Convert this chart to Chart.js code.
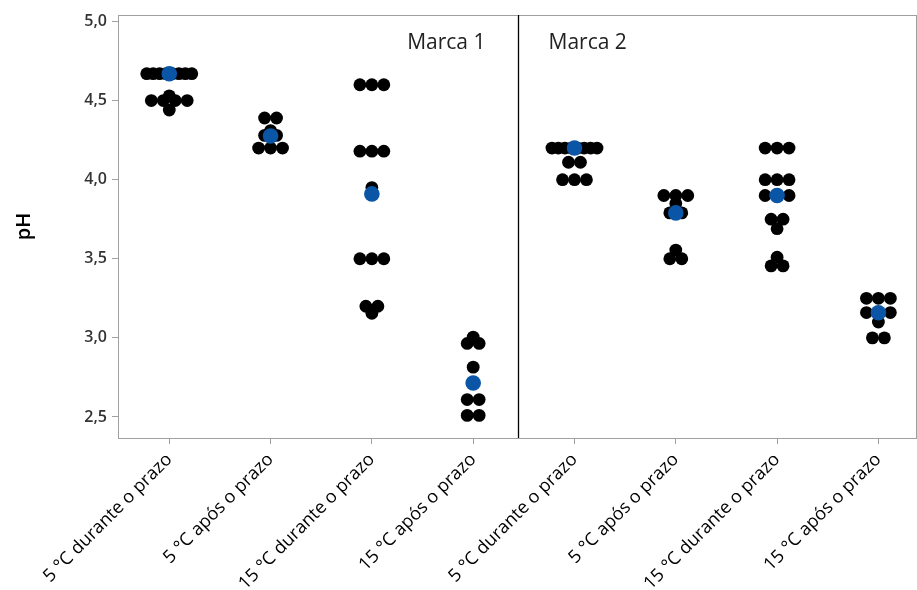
<!DOCTYPE html>
<html><head><meta charset="utf-8">
<script src="https://cdn.jsdelivr.net/npm/chart.js@4.4.0/dist/chart.umd.min.js"></script>
<style>html,body{margin:0;padding:0;background:#fff}#wrap{width:917px;height:590px;position:relative}</style>
</head><body><div id="wrap"><canvas id="c" width="917" height="590"></canvas></div>
<script>
// ---- data ----
const categories = [
  '5 °C durante o prazo', '5 °C após o prazo', '15 °C durante o prazo', '15 °C após o prazo',
  '5 °C durante o prazo', '5 °C após o prazo', '15 °C durante o prazo', '15 °C após o prazo'
];
const panelLabels = ['Marca 1', 'Marca 2'];
const yTicks = [2.5, 3.0, 3.5, 4.0, 4.5, 5.0];

// individual pH values per category (black dots)
const m1_5dur  = [4.67,4.67,4.67,4.67,4.67,4.67,4.67,4.67, 4.53, 4.5,4.5,4.5,4.5, 4.44];
const m1_5apos = [4.39,4.39, 4.31, 4.28,4.28, 4.2,4.2,4.2];
const m1_15dur = [4.6,4.6,4.6, 4.18,4.18,4.18, 3.95, 3.5,3.5,3.5, 3.2,3.2, 3.155];
const m1_15apos= [3.005, 2.965,2.965, 2.815, 2.61,2.61, 2.51,2.51];
const m2_5dur  = [4.2,4.2,4.2,4.2,4.2,4.2,4.2,4.2, 4.11,4.11, 4.0,4.0,4.0];
const m2_5apos = [3.9,3.9,3.9, 3.85, 3.79,3.79, 3.555, 3.5,3.5];
const m2_15dur = [4.2,4.2,4.2, 4.0,4.0,4.0, 3.9,3.9,3.9, 3.75,3.75, 3.69, 3.51, 3.455,3.455];
const m2_15apos= [3.25,3.25,3.25, 3.16,3.16,3.16, 3.1, 3.0,3.0];
// central value per category (blue dots)
const centerValues = [4.67, 4.276, 3.91, 2.715, 4.2, 3.79, 3.9, 3.159];

const groupValues = [m1_5dur, m1_5apos, m1_15dur, m1_15apos, m2_5dur, m2_5apos, m2_15dur, m2_15apos];

// ---- dot-plot layout: equal values sit side by side, centred on the category ----
const DOT_STEP = 0.118;    // x-units between neighbouring dots
const MAX_SPREAD = 0.445;  // widest row (x-units, centre to centre)
function layoutGroup(vals, idx) {
  const counts = {}; vals.forEach(v => counts[v] = (counts[v] || 0) + 1);
  const seen = {};
  return vals.map(v => {
    const n = counts[v];
    const k = seen[v] = (seen[v] === undefined ? 0 : seen[v] + 1);
    const step = n > 1 ? Math.min(DOT_STEP, MAX_SPREAD / (n - 1)) : 0;
    return { x: idx + 1 + (k - (n - 1) / 2) * step, y: v };
  });
}
const blackPoints = groupValues.flatMap((g, i) => layoutGroup(g, i));
const bluePoints = centerValues.map((v, i) => ({ x: i + 1, y: v }));

const FONT = "'Open Sans', 'DejaVu Sans', sans-serif";

const framePlugin = {
  id: 'frame',
  beforeDatasetsDraw(chart) {
    const { ctx, chartArea: a } = chart;
    ctx.save();
    ctx.strokeStyle = '#a0a0a0'; ctx.lineWidth = 1;
    ctx.beginPath();
    ctx.moveTo(a.left, a.top + 0.5); ctx.lineTo(a.right, a.top + 0.5);
    ctx.moveTo(a.right - 0.5, a.top); ctx.lineTo(a.right - 0.5, a.bottom);
    ctx.stroke();
    const mid = Math.round((a.left + a.right) / 2) + 0.5;
    ctx.strokeStyle = '#000'; ctx.lineWidth = 1.3;
    ctx.beginPath(); ctx.moveTo(mid, a.top); ctx.lineTo(mid, a.bottom); ctx.stroke();
    ctx.fillStyle = '#222';
    ctx.font = "21px " + FONT;
    ctx.textBaseline = 'middle';
    ctx.textAlign = 'right'; ctx.fillText(panelLabels[0], mid - 33, a.top + 28);
    ctx.textAlign = 'left'; ctx.fillText(panelLabels[1], mid + 30, a.top + 28);
    ctx.restore();
  }
};

new Chart(document.getElementById('c'), {
  type: 'scatter',
  data: {
    datasets: [
      { label: 'centro', data: bluePoints, backgroundColor: '#0a55a5', borderWidth: 0, pointRadius: 7.8, pointHoverRadius: 7.8 },
      { label: 'pH', data: blackPoints, backgroundColor: '#000', borderWidth: 0, pointRadius: 6.4, pointHoverRadius: 6.4 }
    ]
  },
  options: {
    responsive: false,
    devicePixelRatio: 1,
    animation: false,
    layout: { autoPadding: false, padding: { top: 15, right: 0, bottom: 0, left: 0 } },
    plugins: { legend: { display: false }, tooltip: { enabled: false } },
    scales: {
      x: {
        type: 'linear', min: 0.494, max: 8.381,
        afterBuildTicks: s => { s.ticks = categories.map((_, i) => ({ value: i + 1 })); },
        afterFit: s => { s.height = 152; s.paddingRight = 0; s.paddingLeft = 0; },
        grid: { drawOnChartArea: false, drawTicks: true, tickLength: 6, color: '#a0a0a0' },
        border: { color: '#a0a0a0', width: 1 },
        ticks: {
          autoSkip: false, maxRotation: 45, minRotation: 45, padding: 5,
          color: '#000', font: { family: FONT, size: 18 },
          callback: v => categories[Math.round(v) - 1]
        }
      },
      y: {
        min: 2.367, max: 5.041,
        afterBuildTicks: s => { s.ticks = yTicks.map(v => ({ value: v })); },
        afterFit: s => { s.width = 118; s.paddingTop = 0; s.paddingBottom = 0; },
        grid: { drawOnChartArea: false, drawTicks: true, tickLength: 6, color: '#a0a0a0' },
        border: { color: '#a0a0a0', width: 1 },
        ticks: {
          padding: 5, color: '#333', font: { family: FONT, size: 16, weight: '600' },
          callback: v => v.toFixed(1).replace('.', ',')
        },
        title: { display: true, text: 'pH', color: '#000', font: { family: FONT, size: 20, weight: '600' }, padding: { top: 12, bottom: 0 } }
      }
    }
  },
  plugins: [framePlugin]
});
</script>
</body></html>
